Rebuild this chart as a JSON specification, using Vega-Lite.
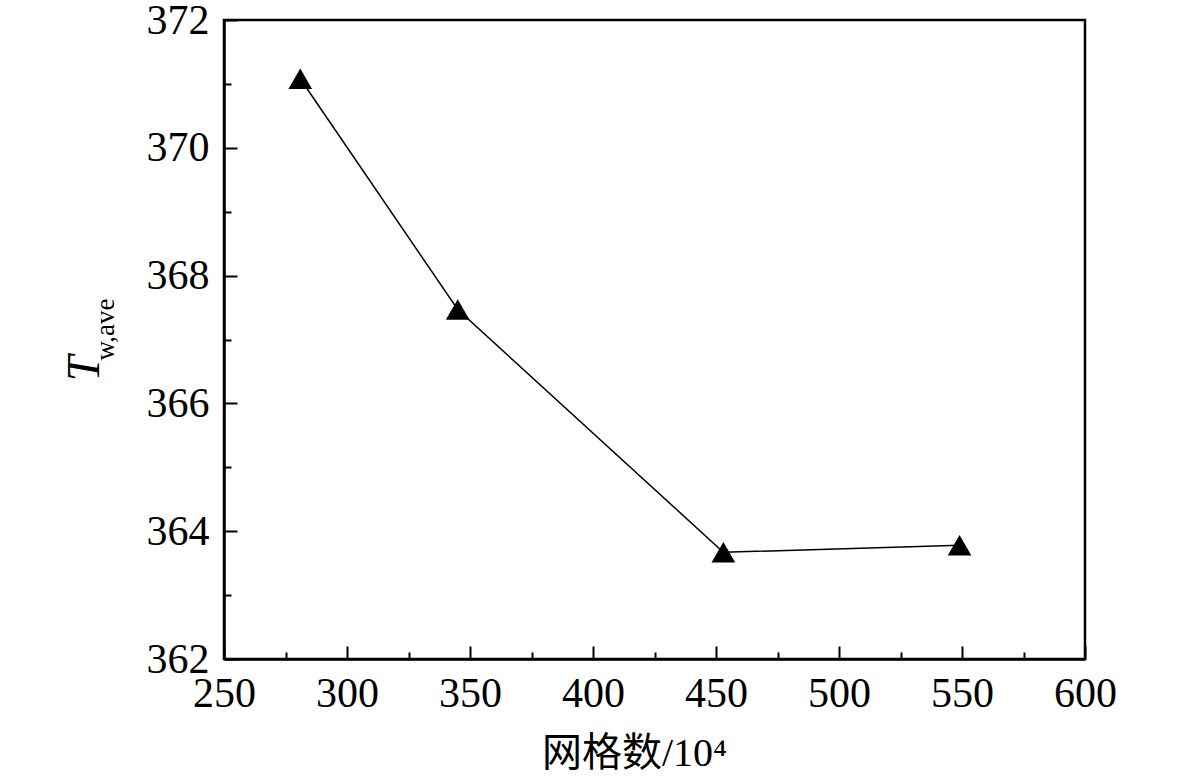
{
  "$schema": "https://vega.github.io/schema/vega-lite/v6.json",
  "autosize": "none",
  "width": 861,
  "height": 639,
  "padding": {"left": 224, "top": 20, "right": 96, "bottom": 125},
  "background": "white",
  "config": {
    "font": "Liberation Serif",
    "view": {"stroke": "black", "strokeWidth": 2.5},
    "axis": {
      "labelColor": "black",
      "titleColor": "black",
      "titleFontWeight": "normal",
      "domainColor": "black",
      "domainWidth": 2.5,
      "tickColor": "black",
      "tickWidth": 2,
      "grid": false
    }
  },
  "data": {
    "values": [
      {"mesh": 281, "tw": 371.08},
      {"mesh": 345, "tw": 367.47},
      {"mesh": 453, "tw": 363.67},
      {"mesh": 549, "tw": 363.78}
    ]
  },
  "resolve": {"axis": {"y": "independent", "x": "independent"}},
  "layer": [
    {
      "mark": {"type": "line", "color": "black", "strokeWidth": 1.5},
      "encoding": {
        "x": {
          "field": "mesh", "type": "quantitative",
          "scale": {"domain": [250, 600], "nice": false, "zero": false},
          "axis": {
            "values": [250, 300, 350, 400, 450, 500, 550, 600],
            "labelFont": "Liberation Serif",
            "labelFontSize": 42,
            "tickSize": -13,
            "labelPadding": 27,
            "labelFlush": false,
            "labelOverlap": false,
            "title": "网格数/10⁴",
            "titleFont": "Liberation Serif, Noto Sans CJK SC",
            "titleFontSize": 40,
            "titleX": 410,
            "titleY": 94,
            "titleAlign": "center",
            "titleBaseline": "middle"
          }
        },
        "y": {
          "field": "tw", "type": "quantitative",
          "scale": {"domain": [362, 372], "nice": false, "zero": false},
          "axis": {
            "values": [362, 364, 366, 368, 370, 372],
            "labelFont": "Liberation Serif",
            "labelFontSize": 42,
            "tickSize": -13,
            "labelPadding": 28,
            "labelFlush": false,
            "labelOverlap": false,
            "title": "T",
            "titleFont": "Liberation Serif",
            "titleFontStyle": "italic",
            "titleFontSize": 46,
            "titleAngle": -90,
            "titleX": -140,
            "titleY": 348,
            "titleAlign": "center",
            "titleBaseline": "middle"
          }
        }
      }
    },
    {
      "mark": {"type": "point", "shape": "triangle-up", "filled": true, "color": "black", "size": 560, "opacity": 1},
      "encoding": {
        "x": {
          "field": "mesh", "type": "quantitative",
          "axis": {
            "orient": "top",
            "domain": false,
            "labels": false,
            "title": null,
            "values": [275, 325, 375, 425, 475, 525, 575],
            "tickSize": 7,
            "offset": -639
          }
        },
        "y": {
          "field": "tw", "type": "quantitative",
          "axis": {
            "orient": "right",
            "domain": false,
            "labels": false,
            "values": [363, 365, 367, 369, 371],
            "tickSize": 7,
            "offset": -861,
            "title": "w,ave",
            "titleFont": "Liberation Serif",
            "titleFontSize": 27,
            "titleAngle": -90,
            "titleX": -119,
            "titleY": 309,
            "titleAlign": "center",
            "titleBaseline": "middle"
          }
        }
      }
    }
  ]
}
